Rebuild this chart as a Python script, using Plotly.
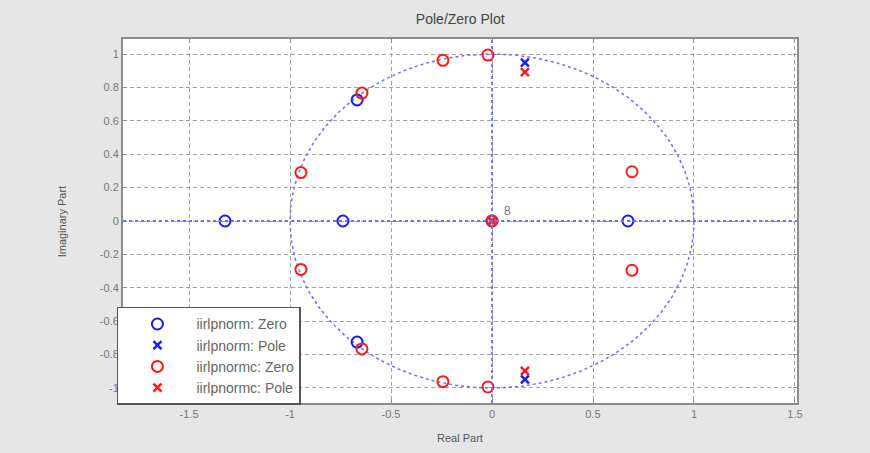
import numpy as np
import plotly.graph_objects as go

# Data
blue_zero_re = [-1.322, -0.738, 0.673, -0.668, -0.668, 0.0]
blue_zero_im = [0.0, 0.0, 0.0, 0.725, -0.725, 0.0]
blue_pole_re = [0.163, 0.163, 0.0]
blue_pole_im = [0.948, -0.948, 0.0]
red_zero_re = [-0.946, -0.946, -0.644, -0.644, -0.243, -0.243, -0.02, -0.02, 0.693, 0.693, 0.0]
red_zero_im = [0.29, -0.29, 0.766, -0.766, 0.962, -0.962, 0.994, -0.994, 0.295, -0.295, 0.0]
red_pole_re = [0.163, 0.163, 0.0]
red_pole_im = [0.892, -0.898, 0.0]
multiplicity_label = "8"
multiplicity_pos = (0.075, 0.06)
x_ticks = [-1.5, -1, -0.5, 0, 0.5, 1, 1.5]
y_ticks = [-1, -0.8, -0.6, -0.4, -0.2, 0, 0.2, 0.4, 0.6, 0.8, 1]

BLUE = "#1a1aff"
RED = "#ff1a1a"
GUIDE = "#6f6ff2"

fig = go.Figure()

# unit circle
t = np.linspace(0, 2 * np.pi, 361)
fig.add_trace(go.Scatter(x=np.cos(t), y=np.sin(t), mode="lines",
                         line=dict(color=GUIDE, width=1.5, dash="dot"),
                         showlegend=False, hoverinfo="skip"))

fig.add_hline(y=0, line=dict(color=GUIDE, width=1.8, dash="dot"), layer="above")
fig.add_vline(x=0, line=dict(color=GUIDE, width=1.8, dash="dot"), layer="above")

fig.add_trace(go.Scatter(x=blue_zero_re, y=blue_zero_im, mode="markers",
                         name="iirlpnorm: Zero",
                         marker=dict(symbol="circle-open", size=11, color=BLUE,
                                     line=dict(width=2, color=BLUE))))
fig.add_trace(go.Scatter(x=blue_pole_re, y=blue_pole_im, mode="markers",
                         name="iirlpnorm: Pole",
                         marker=dict(symbol="x-thin-open", size=8, color=BLUE,
                                     line=dict(width=2.5, color=BLUE))))
fig.add_trace(go.Scatter(x=red_zero_re, y=red_zero_im, mode="markers",
                         name="iirlpnormc: Zero",
                         marker=dict(symbol="circle-open", size=11, color=RED,
                                     line=dict(width=2, color=RED))))
fig.add_trace(go.Scatter(x=red_pole_re, y=red_pole_im, mode="markers",
                         name="iirlpnormc: Pole",
                         marker=dict(symbol="x-thin-open", size=8, color=RED,
                                     line=dict(width=2.5, color=RED))))

fig.add_annotation(x=multiplicity_pos[0], y=multiplicity_pos[1], text=multiplicity_label,
                   showarrow=False, font=dict(size=12, color="#777777",
                                              family="Liberation Sans"))

axis_common = dict(
    showgrid=True, gridcolor="#a0a0a0", griddash="4px,3px", gridwidth=1,
    zeroline=False, showline=True, linecolor="#8c8c8c", linewidth=2, mirror="ticks",
    ticks="inside", ticklen=4, tickcolor="#8c8c8c",
    tickfont=dict(size=11, color="#777777", family="Liberation Sans"),
    fixedrange=True,
)

fig.update_xaxes(range=[-1.827, 1.51], tickvals=x_ticks,
                 ticktext=[f"{v:g}" for v in x_ticks], **axis_common)
fig.update_yaxes(range=[-1.09, 1.09], tickvals=y_ticks,
                 ticktext=[f"{v:g}" for v in y_ticks], **axis_common)

fig.add_annotation(text="Real Part", xref="paper", yref="paper", x=0.5, y=-0.095,
                   yanchor="middle", showarrow=False,
                   font=dict(size=11, color="#555555", family="Liberation Sans"))
fig.add_annotation(text="Imaginary Part", xref="paper", yref="paper", x=-0.09, y=0.5,
                   textangle=-90, xanchor="center", showarrow=False,
                   font=dict(size=11, color="#555555", family="Liberation Sans"))

fig.update_layout(
    width=870, height=453,
    margin=dict(l=123, r=73, t=39, b=50),
    paper_bgcolor="#e6e6e6", plot_bgcolor="white",
    title=dict(text="Pole/Zero Plot", x=0.529, xanchor="center", y=0.958, yanchor="middle",
               font=dict(size=14, color="#444444", family="Liberation Sans")),
    legend=dict(x=-0.009, y=0.264, xanchor="left", yanchor="top",
                bgcolor="white", bordercolor="#555555", borderwidth=1.5,
                font=dict(size=14, color="#666666", family="Liberation Sans"),
                itemwidth=68, tracegroupgap=0),
    showlegend=True,
)

fig.write_html("out.html", config={"displayModeBar": False},
               post_script="document.body.style.margin='0px';document.body.style.padding='0px';")
